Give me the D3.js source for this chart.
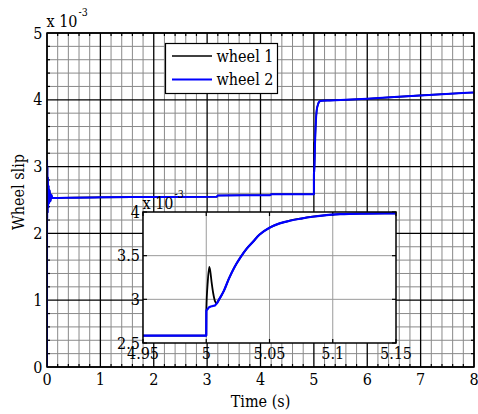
<!DOCTYPE html>
<html>
<head>
<meta charset="utf-8">
<script src="https://cdn.jsdelivr.net/npm/d3@7"></script>
<style>
  body { margin: 0; background: #fff; }
  svg { display: block; }
  #chart text { font-family: "DejaVu Serif Condensed", "DejaVu Serif"; font-stretch: condensed; }
</style>
</head>
<body>
<svg id="chart" width="478" height="414"></svg>
<script>
// Simulated wheel slip (x 1e-3) for the two wheels; a load step occurs at t = 5 s
const time = [0, 0.001, 0.004, 0.008, 0.012, 0.017, 0.022, 0.03, 0.04, 0.05, 0.065, 0.08, 0.1,
  0.5, 1, 2, 3.18, 3.2, 4.18, 4.2, 5.0, 5.0001, 5.0012, 5.0024, 5.0032, 5.0042, 5.0055, 5.0069,
  5.0082, 5.0098, 5.014, 5.018, 5.022, 5.027, 5.032, 5.037, 5.042, 5.05, 5.058, 5.066, 5.075,
  5.084, 5.095, 5.106, 5.125, 5.15, 5.3, 6, 7, 8];
const wheel1 = [0, 3.1, 2.22, 3.0, 2.3, 2.85, 2.38, 2.72, 2.45, 2.65, 2.48, 2.58, 2.53,
  2.535, 2.54, 2.545, 2.548, 2.568, 2.572, 2.585, 2.585, 2.88, 3.2, 3.37, 3.32, 3.2, 3.07, 2.98,
  2.955, 2.99, 3.10, 3.24, 3.36, 3.48, 3.58, 3.66, 3.74, 3.82, 3.87, 3.90, 3.925,
  3.946, 3.965, 3.975, 3.982, 3.985, 3.99, 4.016, 4.066, 4.11];
const wheel2 = [0, 3.1, 2.22, 3.0, 2.3, 2.85, 2.38, 2.72, 2.45, 2.65, 2.48, 2.58, 2.53,
  2.535, 2.54, 2.545, 2.548, 2.568, 2.572, 2.585, 2.585, 2.87, 2.89, 2.91, 2.915, 2.92, 2.925, 2.93,
  2.95, 2.99, 3.10, 3.24, 3.36, 3.48, 3.58, 3.66, 3.74, 3.82, 3.87, 3.90, 3.925,
  3.946, 3.965, 3.975, 3.982, 3.985, 3.99, 4.016, 4.066, 4.11];

const seriesNames = ["wheel 1", "wheel 2"];
const seriesColors = ["#000000", "#0000ff"];

const mainXTicks = [0, 1, 2, 3, 4, 5, 6, 7, 8];
const mainYTicks = [0, 1, 2, 3, 4, 5];
const insetXTicks = [4.95, 5, 5.05, 5.1, 5.15];
const insetXLabels = ["4.95", "5", "5.05", "5.1", "5.15"];
const insetYTicks = [2.5, 3, 3.5, 4];
const insetYLabels = ["2.5", "3", "3.5", "4"];

const xTitle = "Time (s)";
const yTitle = "Wheel slip";
const expBase = "x 10";
const expPower = "-3";

const svg = d3.select("#chart");
const FONT = 16;

// ---------- main axes ----------
const box = { l: 47, r: 474, t: 33, b: 367 };
const x = d3.scaleLinear().domain([0, 8]).range([box.l, box.r]);
const y = d3.scaleLinear().domain([0, 5]).range([box.b, box.t]);

const minorX = d3.range(0, 8.0001, 0.2).filter(v => Math.abs(v - Math.round(v)) > 1e-6);
const minorY = d3.range(0, 5.0001, 0.2).filter(v => Math.abs(v - Math.round(v)) > 1e-6);

const main = svg.append("g");
main.append("rect").attr("x", box.l).attr("y", box.t)
  .attr("width", box.r - box.l).attr("height", box.b - box.t).attr("fill", "#fff");

// minor grid
const gMinor = main.append("g").attr("stroke", "#8a8a8a").attr("stroke-width", 1);
gMinor.selectAll(".mx").data(minorX).join("line")
  .attr("x1", d => x(d)).attr("x2", d => x(d)).attr("y1", box.t).attr("y2", box.b);
gMinor.selectAll(".my").data(minorY).join("line")
  .attr("y1", d => y(d)).attr("y2", d => y(d)).attr("x1", box.l).attr("x2", box.r);

// major grid
const gMajor = main.append("g").attr("stroke", "#000").attr("stroke-width", 1.3);
gMajor.selectAll(".Mx").data(mainXTicks).join("line")
  .attr("x1", d => x(d)).attr("x2", d => x(d)).attr("y1", box.t).attr("y2", box.b);
gMajor.selectAll(".My").data(mainYTicks).join("line")
  .attr("y1", d => y(d)).attr("y2", d => y(d)).attr("x1", box.l).attr("x2", box.r);

// minor ticks inside the frame on all four sides
const gTicks = main.append("g").attr("stroke", "#000").attr("stroke-width", 1.2);
minorX.forEach(v => {
  gTicks.append("line").attr("x1", x(v)).attr("x2", x(v)).attr("y1", box.b).attr("y2", box.b - 3);
  gTicks.append("line").attr("x1", x(v)).attr("x2", x(v)).attr("y1", box.t).attr("y2", box.t + 3);
});
minorY.forEach(v => {
  gTicks.append("line").attr("y1", y(v)).attr("y2", y(v)).attr("x1", box.l).attr("x2", box.l + 3);
  gTicks.append("line").attr("y1", y(v)).attr("y2", y(v)).attr("x1", box.r).attr("x2", box.r - 3);
});

// data lines
const points = time.map((t, i) => ({ t, v: [wheel1[i], wheel2[i]] }));
const clipMain = svg.append("clipPath").attr("id", "clipMain");
clipMain.append("rect").attr("x", box.l).attr("y", box.t - 1)
  .attr("width", box.r - box.l).attr("height", box.b - box.t + 2);

const lineMain = k => d3.line().curve(d3.curveMonotoneX).x(d => x(d.t)).y(d => y(d.v[k]));
const gLines = main.append("g").attr("clip-path", "url(#clipMain)");
[0, 1].forEach(k => {
  gLines.append("path").datum(points)
    .attr("d", lineMain(k)).attr("fill", "none")
    .attr("stroke", seriesColors[k]).attr("stroke-width", k === 0 ? 1.6 : 2)
    .attr("stroke-linejoin", "round");
});

// frame
main.append("rect").attr("x", box.l).attr("y", box.t)
  .attr("width", box.r - box.l).attr("height", box.b - box.t)
  .attr("fill", "none").attr("stroke", "#000").attr("stroke-width", 1.5);

// tick labels
main.selectAll(".xl").data(mainXTicks).join("text")
  .attr("x", d => x(d)).attr("y", 385).attr("text-anchor", "middle")
  .attr("font-size", FONT).text(d => d);
main.selectAll(".yl").data(mainYTicks).join("text")
  .attr("x", box.l - 4.5).attr("y", d => y(d) + 5.5).attr("text-anchor", "end")
  .attr("font-size", FONT).text(d => d);

// exponent note
const ex = main.append("text").attr("x", 46.5).attr("y", 27).attr("font-size", FONT);
ex.append("tspan").text(expBase);
ex.append("tspan").attr("font-size", 10.5).attr("dy", -11).attr("dx", 1).text(expPower);

// axis titles
main.append("text").attr("x", (box.l + box.r) / 2).attr("y", 407)
  .attr("text-anchor", "middle").attr("font-size", FONT).text(xTitle);
main.append("text").attr("transform", "translate(24,192) rotate(-90)")
  .attr("text-anchor", "middle").attr("font-size", FONT).text(yTitle);

// legend
const lg = main.append("g");
lg.append("rect").attr("x", 165.5).attr("y", 43.5).attr("width", 112).attr("height", 50)
  .attr("fill", "#fff").attr("stroke", "#000").attr("stroke-width", 1.2);
seriesNames.forEach((name, k) => {
  const ly = 56 + k * 23.5;
  lg.append("line").attr("x1", 172).attr("x2", 212).attr("y1", ly).attr("y2", ly)
    .attr("stroke", seriesColors[k]).attr("stroke-width", k === 0 ? 1.6 : 2);
  lg.append("text").attr("x", 216.5).attr("y", ly + 5.5).attr("font-size", FONT).text(name);
});

// ---------- inset (zoom on the step at t = 5 s) ----------
const ib = { l: 143, r: 396, t: 212, b: 343 };
const xi = d3.scaleLinear().domain([4.95, 5.15]).range([ib.l, ib.r]);
const yi = d3.scaleLinear().domain([2.5, 4]).range([ib.b, ib.t]);

const inset = svg.append("g");
inset.append("rect").attr("x", ib.l).attr("y", ib.t)
  .attr("width", ib.r - ib.l).attr("height", ib.b - ib.t).attr("fill", "#fff");

const gIGrid = inset.append("g").attr("stroke", "#9a9a9a").attr("stroke-width", 1);
gIGrid.selectAll(".ix").data(insetXTicks.slice(1, -1)).join("line")
  .attr("x1", d => xi(d)).attr("x2", d => xi(d)).attr("y1", ib.t).attr("y2", ib.b);
gIGrid.selectAll(".iy").data(insetYTicks.slice(1, -1)).join("line")
  .attr("y1", d => yi(d)).attr("y2", d => yi(d)).attr("x1", ib.l).attr("x2", ib.r);

const gITicks = inset.append("g").attr("stroke", "#000").attr("stroke-width", 1.2);
insetXTicks.forEach(v => {
  gITicks.append("line").attr("x1", xi(v)).attr("x2", xi(v)).attr("y1", ib.b).attr("y2", ib.b - 4);
  gITicks.append("line").attr("x1", xi(v)).attr("x2", xi(v)).attr("y1", ib.t).attr("y2", ib.t + 4);
});
insetYTicks.forEach(v => {
  gITicks.append("line").attr("y1", yi(v)).attr("y2", yi(v)).attr("x1", ib.l).attr("x2", ib.l + 4);
  gITicks.append("line").attr("y1", yi(v)).attr("y2", yi(v)).attr("x1", ib.r).attr("x2", ib.r - 4);
});

const clipInset = svg.append("clipPath").attr("id", "clipInset");
clipInset.append("rect").attr("x", ib.l).attr("y", ib.t)
  .attr("width", ib.r - ib.l).attr("height", ib.b - ib.t);
const lineInset = k => d3.line().curve(d3.curveMonotoneX).x(d => xi(d.t)).y(d => yi(d.v[k]));
const gILines = inset.append("g").attr("clip-path", "url(#clipInset)");
[0, 1].forEach(k => {
  gILines.append("path").datum(points)
    .attr("d", lineInset(k)).attr("fill", "none")
    .attr("stroke", seriesColors[k]).attr("stroke-width", k === 0 ? 1.8 : 2.2)
    .attr("stroke-linejoin", "round");
});

inset.append("rect").attr("x", ib.l).attr("y", ib.t)
  .attr("width", ib.r - ib.l).attr("height", ib.b - ib.t)
  .attr("fill", "none").attr("stroke", "#000").attr("stroke-width", 1.5);

inset.selectAll(".ixl").data(insetXTicks).join("text")
  .attr("x", d => xi(d)).attr("y", 359).attr("text-anchor", "middle")
  .attr("font-size", FONT).text((d, i) => insetXLabels[i]);
inset.selectAll(".iyl").data(insetYTicks).join("text")
  .attr("x", ib.l - 3).attr("y", d => yi(d) + 5.5).attr("text-anchor", "end")
  .attr("font-size", FONT).text((d, i) => insetYLabels[i]);

const iex = inset.append("text").attr("x", 142.5).attr("y", 209).attr("font-size", FONT);
iex.append("tspan").text(expBase);
iex.append("tspan").attr("font-size", 10.5).attr("dy", -11).attr("dx", 1).text(expPower);
</script>
</body>
</html>
